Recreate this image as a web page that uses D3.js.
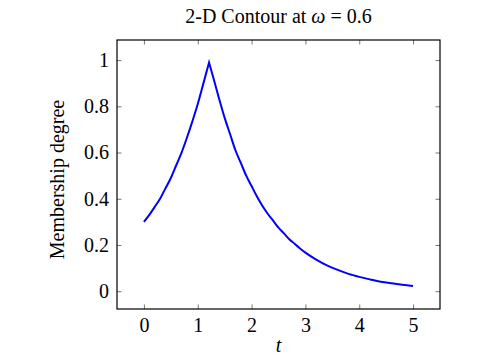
<!DOCTYPE html>
<html>
<head>
<meta charset="utf-8">
<script src="https://cdn.jsdelivr.net/npm/d3@7"></script>
<style>
  body { margin: 0; background: #fff; }
  text { font-family: "Liberation Serif", "Times New Roman", serif; fill: #000; }
</style>
</head>
<body>
<script>
'use strict';

var width = 492;
var height = 359;

// membership curve
var tValues = [0, 0.1, 0.2, 0.3, 0.4, 0.5, 0.6, 0.7, 0.8, 0.9, 1.0, 1.1, 1.21, 1.3, 1.4, 1.5, 1.6, 1.7, 1.8, 1.9, 2.0, 2.1, 2.2, 2.3, 2.4, 2.5, 2.6, 2.7, 2.8, 2.9, 3.0, 3.2, 3.4, 3.6, 3.8, 4.0, 4.2, 4.4, 4.6, 4.8, 5.0];
var membership = [0.30, 0.33, 0.365, 0.40, 0.445, 0.49, 0.545, 0.60, 0.665, 0.735, 0.81, 0.895, 0.99, 0.915, 0.83, 0.75, 0.68, 0.61, 0.555, 0.50, 0.455, 0.41, 0.37, 0.335, 0.305, 0.275, 0.25, 0.225, 0.205, 0.185, 0.167, 0.137, 0.112, 0.092, 0.075, 0.062, 0.051, 0.041, 0.034, 0.028, 0.023];
var xTicks = [0, 1, 2, 3, 4, 5];
var yTicks = [0, 0.2, 0.4, 0.6, 0.8, 1];

var margin = { left: 117, right: 52, top: 40, bottom: 50 };
var plotW = width - margin.left - margin.right;
var plotH = height - margin.top - margin.bottom;

var svg = d3.select('body').append('svg').attr('width', width).attr('height', height);

var x = d3.scaleLinear().domain([-0.5, 5.5]).range([margin.left, margin.left + plotW]);
var y = d3.scaleLinear().domain([-0.077, 1.087]).range([margin.top + plotH, margin.top]);

var tickLen = 4.5;
var fontSize = 20;

// x axis (bottom) and mirrored ticks on top
svg.append('g').attr('transform', 'translate(0,' + (margin.top + plotH) + ')')
  .call(d3.axisBottom(x).tickValues(xTicks).tickSizeInner(-tickLen).tickSizeOuter(0).tickPadding(9).tickFormat(d3.format('d')))
  .call(function (g) {
    g.select('.domain').remove();
    g.selectAll('.tick line').attr('stroke', '#777');
    g.selectAll('.tick text').attr('font-size', fontSize).attr('font-family', '"Liberation Serif", serif');
  });
svg.append('g').attr('transform', 'translate(0,' + margin.top + ')')
  .call(d3.axisTop(x).tickValues(xTicks).tickSizeInner(-tickLen).tickSizeOuter(0).tickFormat(''))
  .call(function (g) {
    g.select('.domain').remove();
    g.selectAll('.tick line').attr('stroke', '#777');
  });

// y axis (left) and mirrored ticks on right
svg.append('g').attr('transform', 'translate(' + margin.left + ',0)')
  .call(d3.axisLeft(y).tickValues(yTicks).tickSizeInner(-tickLen).tickSizeOuter(0).tickPadding(8).tickFormat(function (d) { return d3.format('')(d); }))
  .call(function (g) {
    g.select('.domain').remove();
    g.selectAll('.tick line').attr('stroke', '#777');
    g.selectAll('.tick text').attr('font-size', fontSize).attr('font-family', '"Liberation Serif", serif');
  });
svg.append('g').attr('transform', 'translate(' + (margin.left + plotW) + ',0)')
  .call(d3.axisRight(y).tickValues(yTicks).tickSizeInner(-tickLen).tickSizeOuter(0).tickFormat(''))
  .call(function (g) {
    g.select('.domain').remove();
    g.selectAll('.tick line').attr('stroke', '#777');
  });

// curve: smooth each branch, keep the peak sharp
var pts = tValues.map(function (t, i) { return [t, membership[i]]; });
var peak = d3.maxIndex(membership);
var line = d3.line().x(function (d) { return x(d[0]); }).y(function (d) { return y(d[1]); }).curve(d3.curveMonotoneX);
var leftPath = line(pts.slice(0, peak + 1));
var rightPath = line(pts.slice(peak)).replace(/^M[^A-Za-z]*/, '');
svg.append('path').attr('d', leftPath + rightPath)
  .attr('fill', 'none').attr('stroke', '#0000ff').attr('stroke-width', 2).attr('stroke-linejoin', 'miter');

// frame
svg.append('rect').attr('x', margin.left).attr('y', margin.top).attr('width', plotW).attr('height', plotH)
  .attr('fill', 'none').attr('stroke', '#000').attr('stroke-width', 1.2);

// title
var title = svg.append('text').attr('x', margin.left + plotW / 2).attr('y', 23)
  .attr('text-anchor', 'middle').attr('font-size', fontSize);
title.append('tspan').text('2-D Contour at ');
title.append('tspan').attr('font-style', 'italic').text('ω');
title.append('tspan').text(' = 0.6');

// axis labels
svg.append('text').attr('x', margin.left + plotW / 2).attr('y', 352)
  .attr('text-anchor', 'middle').attr('font-size', fontSize).attr('font-style', 'italic').text('t');
svg.append('text').attr('transform', 'translate(64,' + (margin.top + plotH / 2 + 5) + ') rotate(-90)')
  .attr('text-anchor', 'middle').attr('font-size', fontSize).text('Membership degree');
</script>
</body>
</html>
